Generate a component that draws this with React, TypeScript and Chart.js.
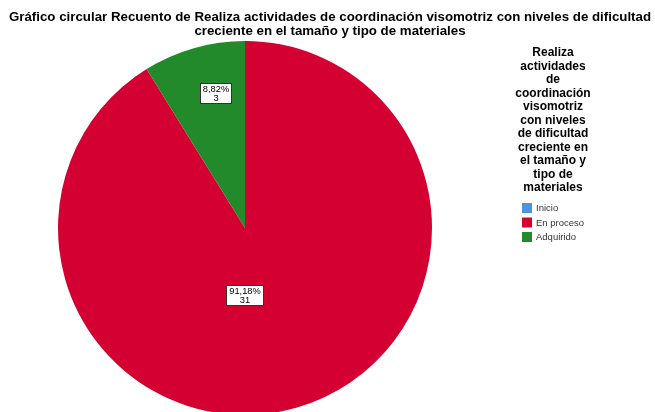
import React, { useEffect, useRef } from "react";
import { Chart, registerables } from "chart.js";

Chart.register(...registerables);

const titleLines = [
  "Gráfico circular Recuento de Realiza actividades de coordinación visomotriz con niveles de dificultad",
  "creciente en el tamaño y tipo de materiales",
];
const legendTitleLines = [
  "Realiza",
  "actividades",
  "de",
  "coordinación",
  "visomotriz",
  "con niveles",
  "de dificultad",
  "creciente en",
  "el tamaño y",
  "tipo de",
  "materiales",
];
const categories = ["Inicio", "En proceso", "Adquirido"];
const counts = [0, 31, 3];
const colors = ["#4C93E2", "#D50032", "#238A2C"];

const FONT = '"Liberation Sans", Arial, sans-serif';

const decorPlugin = {
  id: "decor",
  afterDraw(chart: any) {
    const ctx = chart.ctx as CanvasRenderingContext2D;
    ctx.save();
    // Title
    ctx.fillStyle = "#000";
    ctx.textAlign = "center";
    ctx.textBaseline = "middle";
    ctx.font = `bold 13.3px ${FONT}`;
    titleLines.forEach((t, i) => ctx.fillText(t, 330, 17 + i * 14));

    // Legend title
    ctx.font = `bold 12px ${FONT}`;
    legendTitleLines.forEach((t, i) => ctx.fillText(t, 553, 53 + i * 13.5));

    // Legend items
    ctx.textAlign = "left";
    ctx.font = `9.5px ${FONT}`;
    categories.forEach((c, i) => {
      const y = 208 + i * 14.5;
      ctx.fillStyle = colors[i];
      ctx.fillRect(522, y - 5, 10, 10);
      ctx.fillStyle = "#333";
      ctx.fillText(c, 536, y + 0.5);
    });

    // Slice labels
    const meta = chart.getDatasetMeta(0);
    const total = counts.reduce((a, b) => a + b, 0);
    meta.data.forEach((arc: any, i: number) => {
      const v = counts[i];
      if (!v) return;
      const frac = v / total;
      const mid = (arc.startAngle + arc.endAngle) / 2;
      const big = frac > 0.5;
      const d = arc.outerRadius * (big ? 0.375 : 0.75);
      const x = big ? arc.x - 1 : arc.x + Math.cos(mid) * d * 0.77;
      const y = arc.y + Math.sin(mid) * d;
      const l1 = (frac * 100).toFixed(2).replace(".", ",") + "%";
      const l2 = String(v);
      ctx.font = `9.3px ${FONT}`;
      const w = Math.round(Math.max(ctx.measureText(l1).width, ctx.measureText(l2).width) + 5);
      const h = 20;
      const bx = Math.round(x - w / 2) + 0.5;
      const by = Math.round(y - h / 2) + 0.5;
      ctx.fillStyle = "#fff";
      ctx.fillRect(bx, by, w, h);
      ctx.strokeStyle = "#333";
      ctx.lineWidth = 1;
      ctx.strokeRect(bx, by, w, h);
      ctx.fillStyle = "#000";
      ctx.textAlign = "center";
      ctx.fillText(l1, bx + w / 2, by + 6);
      ctx.fillText(l2, bx + w / 2, by + 15);
    });
    ctx.restore();
  },
};

export default function App() {
  const ref = useRef<HTMLCanvasElement>(null);
  useEffect(() => {
    if (!ref.current) return;
    const chart = new Chart(ref.current, {
      type: "pie",
      data: {
        labels: categories,
        datasets: [
          {
            data: counts,
            backgroundColor: colors,
            borderWidth: 0,
          },
        ],
      },
      options: {
        responsive: false,
        animation: false,
        layout: { padding: { left: 58, right: 223, top: 41, bottom: 15 } },
        plugins: {
          legend: { display: false },
          title: { display: false },
          tooltip: { enabled: false },
        },
      },
      plugins: [decorPlugin],
    });
    return () => chart.destroy();
  }, []);
  return (
    <div style={{ position: "fixed", left: 0, top: 0, width: 655, height: 412, overflow: "hidden", background: "#fff" }}>
      <canvas ref={ref} width={655} height={430} style={{ display: "block" }} />
    </div>
  );
}
